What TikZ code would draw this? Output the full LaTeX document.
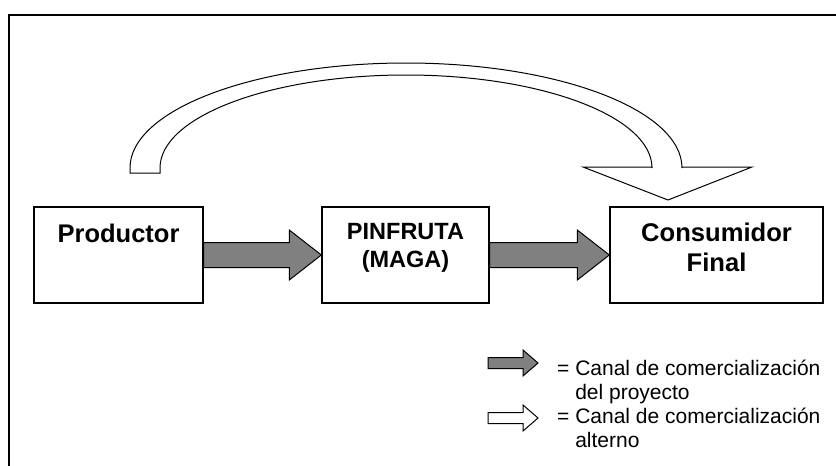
\documentclass[tikz,border=0pt]{standalone}
\usepackage{fontspec}
\setmainfont{Liberation Sans}
\usetikzlibrary{calc}

\definecolor{chgray}{RGB}{128,128,128}

% block arrow: [style]{from}{to}{shaft half}{head half}{head length}
\newcommand{\chanarrow}[6][]{%
  \draw[#1] ($(#2)+(0,-#4)$) -- ($(#3)+(-#6,-#4)$) -- ($(#3)+(-#6,-#5)$) -- (#3)
    -- ($(#3)+(-#6,#5)$) -- ($(#3)+(-#6,#4)$) -- ($(#2)+(0,#4)$) -- cycle;}

\tikzset{
  chbox/.style={draw, line width=1.4pt, fill=white, minimum height=96pt, inner sep=0pt},
  chlbl/.style={font=\bfseries, align=center, inner sep=0pt},
  proj/.style={draw, line width=1pt, fill=chgray, line join=miter},
  alt/.style={draw, line width=1pt, fill=white, line join=miter},
  legtxt/.style={font=\fontsize{21}{24}\selectfont, align=left, inner sep=0pt, anchor=base west}
}

\begin{document}
\begin{tikzpicture}[x=1pt,y=-1pt]
    \useasboundingbox (0,0) rectangle (836,466);
    % frame
    \draw[line width=2pt] (836,15) -- (9,15) -- (9,466);

    % the three stages
    \node[chbox, minimum width=169pt] (prod) at (118.5,255) {};
    \node[chbox, minimum width=167pt] (pin) at (405.5,255) {};
    \node[chbox, minimum width=213pt] (cons) at (716.5,255) {};
    \node[chlbl, font=\bfseries\fontsize{25.5}{30}\selectfont, anchor=base] (prodtxt)
        at ([yshift=-36pt]prod.north) {Productor};
    \node[chlbl, font=\bfseries\fontsize{23.5}{28}\selectfont, anchor=base] (pintxt)
        at ([yshift=-61pt]pin.north) {PINFRUTA\\(MAGA)};
    \node[chlbl, font=\bfseries\fontsize{25.6}{30}\selectfont, anchor=base] (constxt)
        at ([yshift=-65pt]cons.north) {Consumidor\\Final};

    % project channel
    \chanarrow[proj]{prod.east}{pin.west}{12.5}{25}{32}
    \chanarrow[proj]{pin.east}{cons.west}{12.5}{25}{32}

    % alternative channel
    \coordinate (alttail) at (145,173);
    \coordinate (alttip) at (668,200);
    \draw[alt] ($(alttail)+(-15,0)$) -- (130,168)
        arc[start angle=180, end angle=360, x radius=276, y radius=105]
        -- (682,167) -- (752,167) -- (alttip) -- (583,167) -- (652,167) -- (652,168)
        arc[start angle=0, end angle=-180, x radius=246, y radius=93]
        -- ($(alttail)+(15,0)$) -- cycle;

    % legend
    \coordinate (lg1a) at (488,363);
    \coordinate (lg1b) at (538,363);
    \coordinate (lg2a) at (488,418);
    \coordinate (lg2b) at (538,418);
    \chanarrow[proj]{lg1a}{lg1b}{5.5}{13}{15}
    \chanarrow[alt]{lg2a}{lg2b}{5.5}{13}{15}
    \node[legtxt] (leg1) at (557,399) {= Canal de comercializaci\'on\\\hphantom{= }del proyecto};
    \node[legtxt] (leg2) at (557,447) {= Canal de comercializaci\'on\\\hphantom{= }alterno};
\end{tikzpicture}
\end{document}
